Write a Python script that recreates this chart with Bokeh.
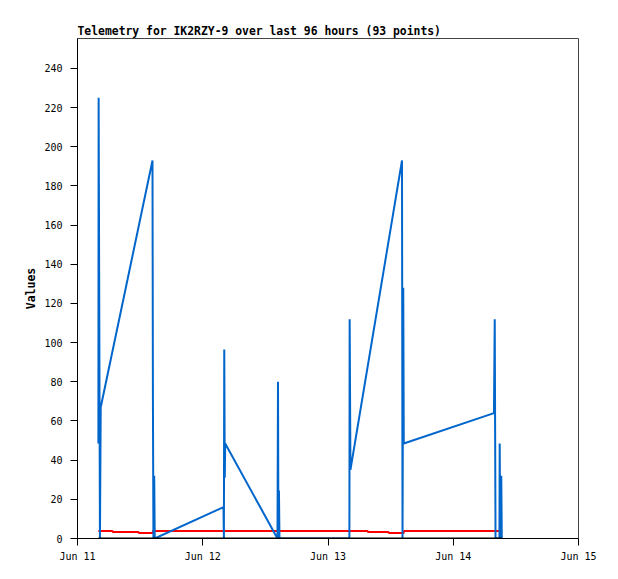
import numpy as np
import pandas as pd
from bokeh.plotting import figure
from bokeh.models import Range1d, FixedTicker, DatetimeTickFormatter
from bokeh.embed import file_html
from bokeh.resources import INLINE

# ---- data (hours after Jun 11 00:00) ----
blue_hours = [4.0, 4.05, 4.3, 4.45,
              14.37, 14.45, 14.55, 14.7, 14.8,
              27.97, 28.05, 28.12, 28.22, 28.3,
              38.32, 38.42, 38.5, 38.6, 38.7,
              52.1, 52.15, 52.3,
              62.18, 62.28, 62.42, 62.52,
              79.8, 79.95, 80.1, 80.85, 80.9, 81.0, 81.2, 81.3]
blue_values = [48.5, 225, 0, 67,
               193, 72, 0, 32, 0,
               16, 0, 96.5, 31, 48.5,
               0, 80, 0, 24.5, 0,
               0, 112, 35,
               193, 0, 128, 48.5,
               64, 112, 0, 0, 48.5, 0, 32, 0]

red_hours = [4.0, 6.7, 6.75, 11.7, 11.75, 14.4, 14.45, 55.6, 55.65, 59.6, 59.65, 62.5, 62.55, 81.2]
red_values = [3.8, 3.8, 3.3, 3.3, 2.8, 2.8, 3.8, 3.8, 3.3, 3.3, 2.8, 2.8, 3.8, 3.8]

black_hours = [4.0, 81.3]
black_values = [0, 0]

y_ticks = [0, 20, 40, 60, 80, 100, 120, 140, 160, 180, 200, 220, 240]
x_tick_days = ["2024-06-11", "2024-06-12", "2024-06-13", "2024-06-14", "2024-06-15"]

base = pd.Timestamp("2024-06-11")


def to_dt(hours):
    return base + pd.to_timedelta(np.array(hours, dtype=float), unit="h")


p = figure(width=608, height=571, output_backend="svg", toolbar_location=None,
           x_axis_type="datetime",
           x_range=Range1d(base, base + pd.Timedelta(days=4)),
           y_range=Range1d(0, 255.3),
           min_border_left=77, min_border_right=30, min_border_top=38, min_border_bottom=33,
           title="Telemetry for IK2RZY-9 over last 96 hours (93 points)")

p.title.text_font = "DejaVu Sans Mono"
p.title.text_font_size = "11.4px"
p.title.text_font_style = "bold"
p.title.text_color = "black"
p.title.align = "left"
p.title.offset = 0
p.title.standoff = 2

p.background_fill_color = "white"
p.border_fill_color = "white"
p.outline_line_color = "#444444"
p.outline_line_width = 1
p.xgrid.visible = False
p.ygrid.visible = False

p.line(to_dt(red_hours), red_values, line_color="#ff0000", line_width=2)
p.line(to_dt(blue_hours), blue_values, line_color="#0066cc", line_width=2)
p.line(to_dt(black_hours), black_values, line_color="#000000", line_width=2)

tick_ms = [pd.Timestamp(d).value // 10**6 for d in x_tick_days]
p.xaxis.ticker = FixedTicker(ticks=tick_ms)
fmt = "%b %d"
p.xaxis.formatter = DatetimeTickFormatter(milliseconds=fmt, seconds=fmt, minsec=fmt, minutes=fmt,
                                          hourmin=fmt, hours=fmt, days=fmt, months=fmt, years=fmt)
p.yaxis.ticker = FixedTicker(ticks=y_ticks)
p.yaxis.axis_label = "Values"

for ax in (p.xaxis[0], p.yaxis[0]):
    ax.axis_line_color = "black"
    ax.major_tick_line_color = "black"
    ax.major_tick_out = 7
    ax.major_tick_in = 0
    ax.minor_tick_line_color = None
    ax.major_label_text_font = "DejaVu Sans Mono"
    ax.major_label_text_font_size = "10px"
    ax.major_label_text_color = "black"

p.xaxis.major_label_standoff = 5
p.yaxis.major_label_standoff = 8
p.yaxis.axis_label_text_font = "DejaVu Sans Mono"
p.yaxis.axis_label_text_font_style = "bold"
p.yaxis.axis_label_text_font_size = "11.5px"
p.yaxis.axis_label_text_color = "black"
p.yaxis.axis_label_standoff = 3

open("out.html", "w").write(file_html(p, INLINE))
